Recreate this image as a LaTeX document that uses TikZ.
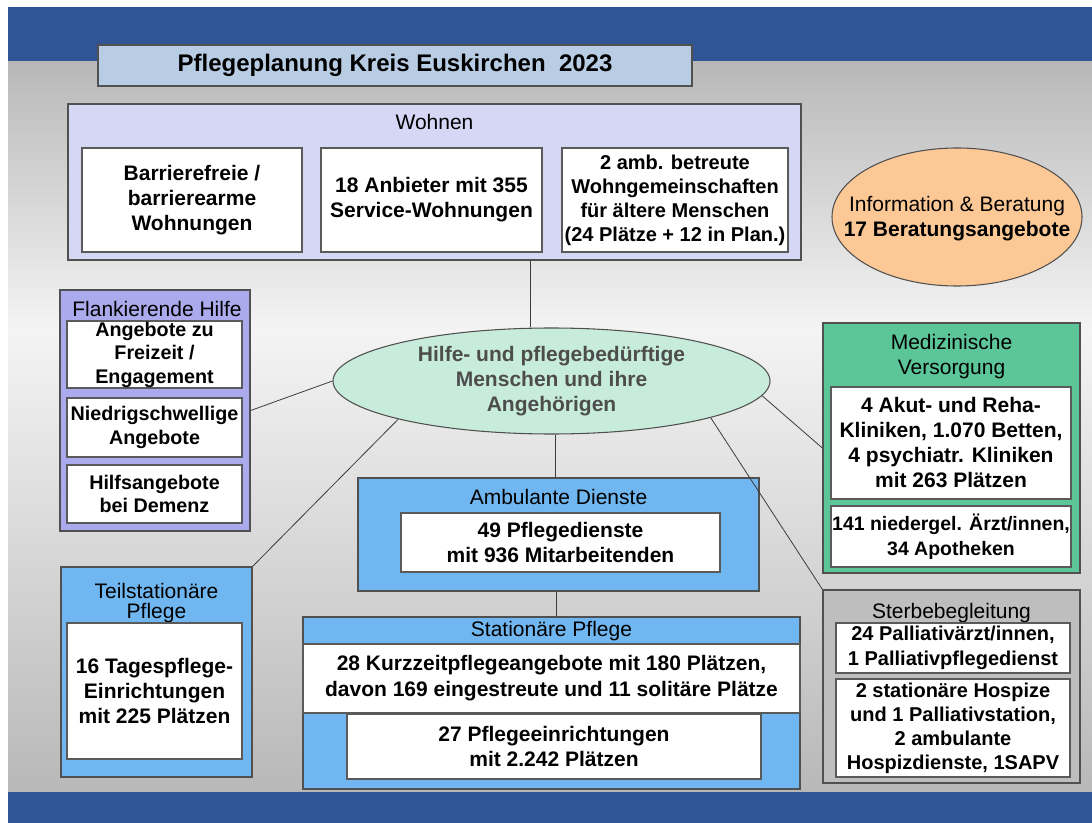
\documentclass[tikz,border=0pt]{standalone}
\usepackage{fontspec}
\setmainfont{Liberation Sans}
\usepackage{tikz}
\usetikzlibrary{shapes.geometric}

\definecolor{bandblue}{RGB}{47,85,151}
\definecolor{bgdark}{RGB}{184,184,184}
\definecolor{bglight}{RGB}{244,244,244}
\definecolor{titlefill}{RGB}{184,204,228}
\definecolor{wohnfill}{RGB}{214,214,245}
\definecolor{flankfill}{RGB}{170,170,236}
\definecolor{hilfefill}{RGB}{200,236,220}
\definecolor{hilfetext}{RGB}{77,77,77}
\definecolor{infofill}{RGB}{252,200,150}
\definecolor{medfill}{RGB}{92,198,152}
\definecolor{sterbefill}{RGB}{190,190,190}
\definecolor{pflegeblue}{RGB}{112,182,240}
\definecolor{edgegrey}{RGB}{80,80,80}
\definecolor{innergrey}{RGB}{90,90,90}
\definecolor{linkgrey}{RGB}{60,60,60}

\begin{document}
\begin{tikzpicture}[x=0.75pt,y=0.75pt,yscale=-1,xscale=1,
  wh/.style 2 args={minimum width=#1*0.75pt,minimum height=#2*0.75pt},
  outerbox/.style={draw=edgegrey,line width=1pt,inner sep=0pt},
  innerbox/.style={draw=innergrey,line width=0.8pt,fill=white,inner sep=0pt,align=center,font=\bfseries\fontsize{15.75}{18.75}\selectfont},
  smallbold/.style={font=\bfseries\fontsize{14.8}{17.6}\selectfont},
  head/.style={inner sep=0pt,anchor=base,font=\fontsize{15.75}{18.75}\selectfont},
  link/.style={draw=linkgrey,line width=0.6pt}]
\useasboundingbox (0,0) rectangle (1092,823);

%Shape: Background
\shade[top color=bgdark,bottom color=bglight] (8,61) rectangle (1092,330);
\shade[top color=bglight,bottom color=bgdark] (8,330) rectangle (1092,792);
\fill[bandblue] (8,7) rectangle (1092,61);
\fill[bandblue] (8,792) rectangle (1092,823);

%Shape: Rectangle
\node[outerbox,fill=titlefill,wh={594}{41},font=\bfseries\fontsize{18}{21}\selectfont] (title) at (395,65.5) {Pflegeplanung Kreis Euskirchen~~2023};

%Shape: Rectangle
\node[outerbox,fill=wohnfill,wh={733}{156}] (wohnen) at (434.5,182) {};
% Text Node
\node[head] (wohnenhead) at (434.5,130) {Wohnen};
\node[innerbox,wh={220}{104}] (barriere) at (192,200) {Barrierefreie /\\barrierearme\\Wohnungen};
\node[innerbox,wh={221}{104}] (service) at (431.5,200) {18 Anbieter mit 355\\Service-Wohnungen};
\node[innerbox,wh={226}{104},font=\bfseries\fontsize{15}{18}\selectfont] (wg) at (675,200) {2 amb. betreute\\Wohngemeinschaften\\für ältere Menschen\\(24 Plätze + 12 in Plan.)};

%Shape: Ellipse
\node[draw=edgegrey,line width=0.8pt,fill=infofill,ellipse,wh={250}{138},inner sep=0pt] (info) at (957,217) {};
% Text Node
\node[align=center,inner sep=0pt,font=\fontsize{15.75}{18.75}\selectfont] (infotext) at (957,219) {Information \& Beratung\\\textbf{17 Beratungsangebote}};

%Shape: Rectangle
\node[outerbox,fill=flankfill,wh={190}{241}] (flank) at (155,410.5) {};
% Text Node
\node[head] (flankhead) at (157,317) {Flankierende Hilfe};
\node[innerbox,smallbold,wh={175}{67}] (freizeit) at (154.5,354.5) {Angebote zu\\Freizeit /\\Engagement};
\node[innerbox,smallbold,wh={175}{59}] (niedrig) at (154.5,427.5) {Niedrigschwellige\\Angebote};
\node[innerbox,smallbold,wh={175}{58}] (demenz) at (154.5,494) {Hilfsangebote\\bei Demenz};

%Shape: Ellipse
\node[draw=edgegrey,line width=0.8pt,fill=hilfefill,ellipse,wh={437}{106},inner sep=0pt,align=center,text=hilfetext,font=\bfseries\fontsize{15.75}{18.75}\selectfont] (hilfe) at (551.5,381) {Hilfe- und pflegebedürftige\\Menschen und ihre\\Angehörigen};

%Shape: Rectangle
\node[outerbox,fill=medfill,wh={257}{250}] (med) at (951.5,448) {};
% Text Node
\node[head,anchor=center,align=center] (medhead) at (951.5,357) {Medizinische\\Versorgung};
\node[innerbox,wh={240}{112}] (kliniken) at (951,443) {4 Akut- und Reha-\\Kliniken, 1.070 Betten,\\4 psychiatr. Kliniken\\mit 263 Plätzen};
\node[innerbox,wh={240}{61},font=\bfseries\fontsize{14.6}{18.75}\selectfont] (aerzte) at (951,536.5) {141 niedergel. Ärzt/innen,\\34 Apotheken};

%Shape: Rectangle
\node[outerbox,fill=sterbefill,wh={257}{193}] (sterbe) at (951.5,686.5) {};
% Text Node
\node[head] (sterbehead) at (951.5,618) {Sterbebegleitung};
\node[innerbox,wh={234}{50},font=\bfseries\fontsize{15}{18.75}\selectfont] (palliativ) at (953,648) {24 Palliativärzt/innen,\\1 Palliativpflegedienst};
\node[innerbox,wh={234}{98},font=\bfseries\fontsize{15}{18}\selectfont] (hospiz) at (953,728) {2 stationäre Hospize\\und 1 Palliativstation,\\2 ambulante\\Hospizdienste, 1SAPV};

%Shape: Rectangle
\node[outerbox,fill=pflegeblue,wh={401}{113}] (ambulant) at (558.5,534.5) {};
% Text Node
\node[head] (ambulanthead) at (558.5,504) {Ambulante Dienste};
\node[innerbox,wh={319}{59}] (pflegedienste) at (560.5,542.5) {49 Pflegedienste\\mit 936 Mitarbeitenden};

%Shape: Rectangle
\node[outerbox,fill=pflegeblue,wh={497}{172}] (station) at (551.5,703) {};
% Text Node
\node[head] (stationhead) at (551.5,636) {Stationäre Pflege};
\node[innerbox,wh={497}{69},font=\bfseries\fontsize{15.75}{19.5}\selectfont] (kurzzeit) at (551.5,678.5) {28 Kurzzeitpflegeangebote mit 180 Plätzen,\\davon 169 eingestreute und 11 solitäre Plätze};
\node[innerbox,wh={414}{65}] (heime) at (554,746.5) {27 Pflegeeinrichtungen\\mit 2.242 Plätzen};

%Shape: Rectangle
\node[outerbox,fill=pflegeblue,wh={191}{210}] (teil) at (156.5,672) {};
% Text Node
\node[head,anchor=center,align=center,font=\fontsize{15.75}{15}\selectfont] (teilhead) at (156.5,603) {Teilstationäre\\Pflege};
\node[innerbox,wh={175}{136}] (tagespflege) at (154.5,691) {16 Tagespflege-\\Einrichtungen\\mit 225 Plätzen};

%Straight Lines
\path (hilfe.north) ++(-21.5,0) coordinate (hilfetop);
\draw[link] (hilfetop) -- (hilfetop |- wohnen.south);
\path (hilfe.south) ++(4,0) coordinate (hilfefoot);
\draw[link] (hilfefoot) -- (hilfefoot |- ambulant.north);
\path (ambulant.south) ++(-2.5,0) coordinate (ambulantfoot);
\draw[link] (ambulantfoot) -- (ambulantfoot |- station.north);
\draw[link] (flank.east) -- (hilfe.west);
\draw[link] (teil.north east) -- (hilfe.194);
\draw[link] (hilfe.-4) -- (med.west);
\draw[link] (hilfe.-13) -- (sterbe.north west);

\end{tikzpicture}
\end{document}
